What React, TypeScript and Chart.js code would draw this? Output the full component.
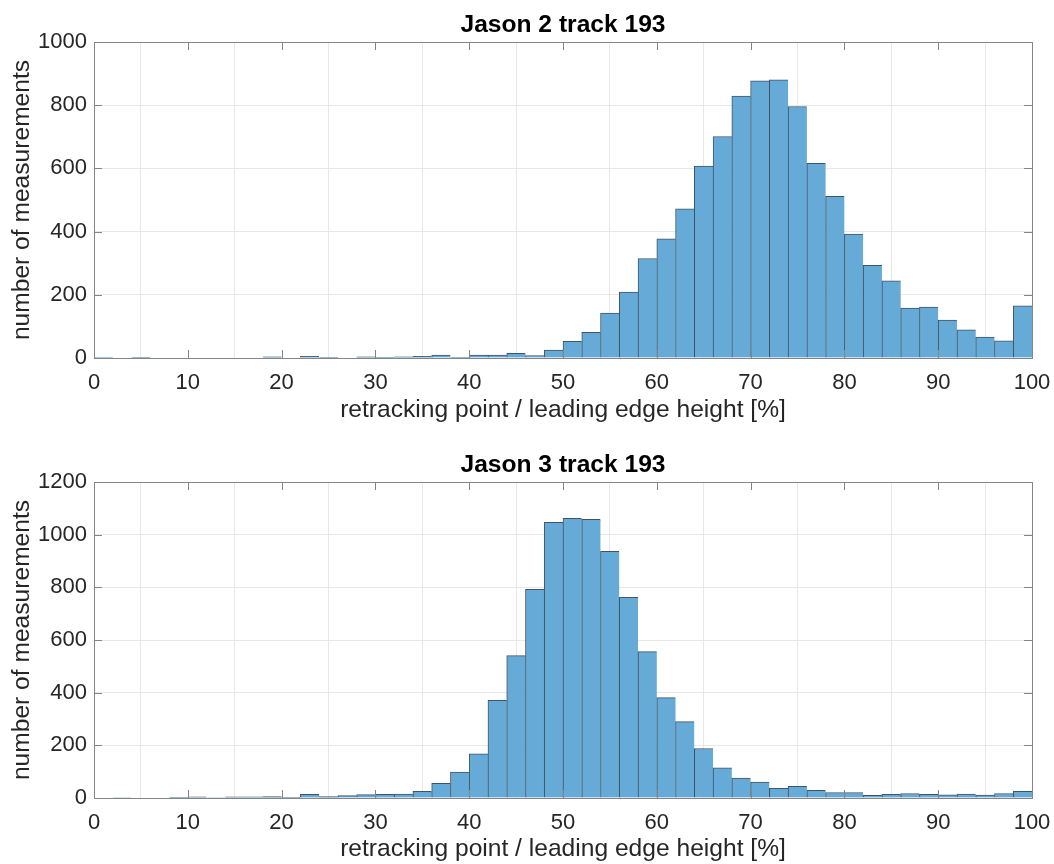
import React, { useEffect, useRef } from "react";
import { Chart, registerables } from "chart.js";

Chart.register(...registerables);

// ---- data ----
const binCenters = [
  1, 3, 5, 7, 9, 11, 13, 15, 17, 19, 21, 23, 25, 27, 29, 31, 33, 35, 37, 39,
  41, 43, 45, 47, 49, 51, 53, 55, 57, 59, 61, 63, 65, 67, 69, 71, 73, 75, 77, 79,
  81, 83, 85, 87, 89, 91, 93, 95, 97, 99,
];

const jason2Counts = [
  1, 0, 2, 0, 0, 0, 0, 0, 0, 4, 0, 5, 2, 0, 4, 2, 4, 5, 9, 2,
  9, 9, 15, 8, 25, 53, 81, 142, 209, 315, 377, 472, 607, 701, 829, 877, 880, 796, 616, 512,
  392, 293, 244, 158, 161, 120, 89, 66, 54, 165,
];

const jason3Counts = [
  0, 2, 0, 0, 1, 4, 2, 4, 4, 5, 3, 14, 5, 9, 13, 14, 15, 25, 56, 98,
  168, 371, 541, 792, 1047, 1062, 1058, 937, 762, 556, 381, 290, 188, 115, 76, 60, 37, 44, 29, 21,
  21, 10, 14, 17, 14, 12, 15, 11, 17, 25,
];

const xTickStep = 10;
const yTickStep = 200;
const jason2YMax = 1000;
const jason3YMax = 1200;

const jason2Title = "Jason 2 track 193";
const jason3Title = "Jason 3 track 193";
const xLabel = "retracking point / leading edge height [%]";
const yLabel = "number of measurements";

// ---- style ----
const FONT = "'Liberation Sans', Arial, Helvetica, sans-serif";
const TEXT_COLOR = "#262626";
const FRAME_COLOR = "#858585";
const GRID_COLOR = "#e8e8e8";
const BAR_FILL = "rgb(102,170,215)";
const BAR_EDGE = "rgba(20,40,60,0.8)";
const TICK_LEN = 8;

const framePlugin = {
  id: "matlabFrame",
  afterDatasetsDraw(chart: any) {
    const { ctx, chartArea: a, scales } = chart;
    const x = scales.x;
    const y = scales.y;
    ctx.save();
    ctx.strokeStyle = FRAME_COLOR;
    ctx.lineWidth = 1;
    ctx.beginPath();
    for (const t of x.ticks) {
      const px = Math.round(x.getPixelForValue(t.value)) + 0.5;
      ctx.moveTo(px, a.bottom);
      ctx.lineTo(px, a.bottom - TICK_LEN);
      ctx.moveTo(px, a.top);
      ctx.lineTo(px, a.top + TICK_LEN);
    }
    for (const t of y.ticks) {
      const py = Math.round(y.getPixelForValue(t.value)) + 0.5;
      ctx.moveTo(a.left, py);
      ctx.lineTo(a.left + TICK_LEN, py);
      ctx.moveTo(a.right, py);
      ctx.lineTo(a.right - TICK_LEN, py);
    }
    ctx.stroke();
    ctx.strokeRect(
      Math.round(a.left) + 0.5,
      Math.round(a.top) + 0.5,
      Math.round(a.right) - Math.round(a.left),
      Math.round(a.bottom) - Math.round(a.top)
    );
    ctx.restore();
  },
};

function makeConfig(
  title: string,
  counts: number[],
  yMax: number,
  xScaleHeight: number,
  xTitlePadBottom: number
): any {
  return {
    type: "bar",
    data: {
      datasets: [
        {
          data: binCenters.map((c, i) => ({ x: c, y: counts[i] })),
          backgroundColor: BAR_FILL,
          borderColor: BAR_EDGE,
          borderWidth: { top: 1, left: 1, right: 0, bottom: 0 },
          borderSkipped: false,
          barPercentage: 1,
          categoryPercentage: 1,
          grouped: false,
        },
      ],
    },
    options: {
      animation: false,
      responsive: false,
      devicePixelRatio: 1,
      events: [],
      layout: { padding: { left: 0, right: 22, top: 0, bottom: 0 } },
      plugins: {
        legend: { display: false },
        tooltip: { enabled: false },
        title: {
          display: true,
          text: title,
          fullSize: false,
          color: "#000000",
          font: { family: FONT, size: 24.6, weight: "bold", lineHeight: 1.2 },
          padding: { top: 10.5, bottom: 2 },
        },
      },
      scales: {
        x: {
          type: "linear",
          min: 0,
          max: 100,
          offset: false,
          ticks: {
            stepSize: xTickStep,
            color: TEXT_COLOR,
            font: { family: FONT, size: 22 },
            padding: 12,
            maxRotation: 0,
            autoSkip: false,
            callback: (v: any) => String(v),
          },
          grid: { color: GRID_COLOR, drawTicks: false, lineWidth: 1 },
          border: { display: false },
          title: {
            display: true,
            text: xLabel,
            color: TEXT_COLOR,
            font: { family: FONT, size: 24.6, lineHeight: 1.2 },
            padding: { top: 0, bottom: xTitlePadBottom },
          },
          afterFit: (s: any) => {
            s.height = xScaleHeight;
            s.paddingLeft = 0;
            s.paddingRight = 0;
          },
        },
        y: {
          type: "linear",
          min: 0,
          max: yMax,
          ticks: {
            stepSize: yTickStep,
            color: TEXT_COLOR,
            font: { family: FONT, size: 22 },
            padding: 7,
            callback: (v: any) => String(v),
          },
          grid: { color: GRID_COLOR, drawTicks: false, lineWidth: 1 },
          border: { display: false },
          title: {
            display: true,
            text: yLabel,
            color: TEXT_COLOR,
            font: { family: FONT, size: 24.6, lineHeight: 1.2 },
            padding: { top: 7, bottom: 0 },
          },
          afterFit: (s: any) => {
            s.width = 94;
          },
        },
      },
    },
    plugins: [framePlugin],
  };
}

function Histogram(props: {
  title: string;
  counts: number[];
  yMax: number;
  height: number;
  xScaleHeight: number;
  xTitlePadBottom: number;
}) {
  const ref = useRef<HTMLCanvasElement | null>(null);
  useEffect(() => {
    if (!ref.current) return;
    const chart = new Chart(
      ref.current,
      makeConfig(props.title, props.counts, props.yMax, props.xScaleHeight, props.xTitlePadBottom)
    );
    return () => chart.destroy();
  }, []);
  return (
    <canvas
      ref={ref}
      width={1054}
      height={props.height}
      style={{ display: "block", width: 1054, height: props.height }}
    />
  );
}

export default function App() {
  return (
    <div
      style={{
        position: "absolute",
        left: 0,
        top: 0,
        width: 1054,
        height: 864,
        background: "#ffffff",
        overflow: "hidden",
      }}
    >
      <Histogram
        title={jason2Title}
        counts={jason2Counts}
        yMax={jason2YMax}
        height={440}
        xScaleHeight={82}
        xTitlePadBottom={15.5}
      />
      <Histogram
        title={jason3Title}
        counts={jason3Counts}
        yMax={jason3YMax}
        height={424}
        xScaleHeight={66}
        xTitlePadBottom={0.2}
      />
    </div>
  );
}
